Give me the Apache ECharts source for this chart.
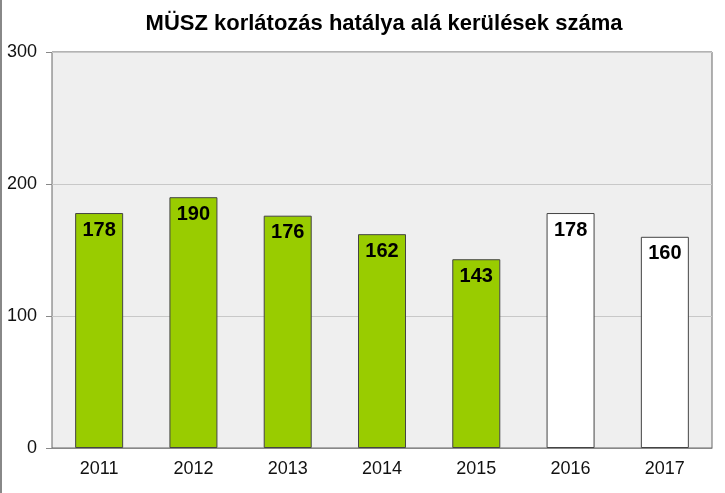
<!DOCTYPE html>
<html><head><meta charset="utf-8">
<script src="https://cdn.jsdelivr.net/npm/echarts@6/dist/echarts.min.js"></script>
<style>html,body{margin:0;padding:0;background:#fff}#c{width:725px;height:493px;box-sizing:border-box;border-left:2px solid #888}</style>
</head><body><div id="c"></div>
<script>
const categories = ['2011','2012','2013','2014','2015','2016','2017'];
const values = [178,190,176,162,143,178,160];
const colors = ['#99cc00','#99cc00','#99cc00','#99cc00','#99cc00','#ffffff','#ffffff'];
const chart = echarts.init(document.getElementById('c'));
chart.setOption({
  animation:false,
  title:{text:'MÜSZ korlátozás hatálya alá kerülések száma',left:377,top:8,textAlign:'center',
    textStyle:{fontFamily:'Liberation Sans',fontSize:22,fontWeight:'bold',color:'#000'}},
  grid:{left:50,right:13,top:52,bottom:45,show:true,backgroundColor:'#efefef',borderColor:'#666',borderWidth:1},
  xAxis:{type:'category',data:categories,
    axisLine:{lineStyle:{color:'#888'}},axisTick:{show:false},
    axisLabel:{fontFamily:'Liberation Sans',fontSize:18,color:'#111',margin:12}},
  yAxis:{type:'value',min:0,max:300,interval:100,
    axisLine:{show:false},axisTick:{show:true,length:6,lineStyle:{color:'#888'}},
    splitLine:{lineStyle:{color:'#c8c8c8'}},
    axisLabel:{fontFamily:'Liberation Sans',fontSize:18,color:'#111',margin:15}},
  series:[{type:'bar',barWidth:48,
    data:values.map((v,i)=>({value:v,itemStyle:{color:colors[i]}})),
    itemStyle:{borderColor:'#444',borderWidth:1},
    label:{show:true,position:'insideTop',distance:7,fontFamily:'Liberation Sans',fontSize:20,fontWeight:'bold',color:'#000'}}]
});
</script></body></html>
